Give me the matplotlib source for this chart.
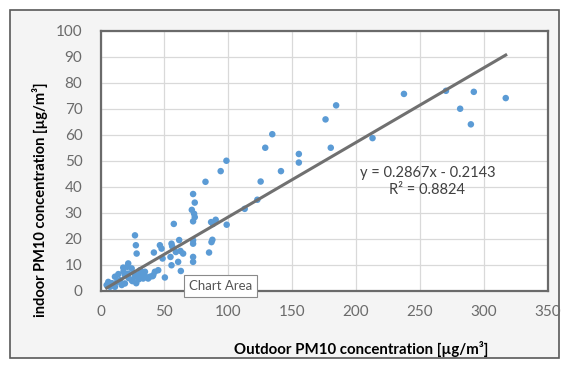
import numpy as np
import matplotlib.pyplot as plt
from matplotlib.patches import Rectangle

plt.rcParams['font.family'] = ['Lato', 'DejaVu Sans']

# outdoor (x) vs indoor (y) PM10
outdoor = [184.5, 237.6, 270.5, 292.3, 317.3, 281.6, 290.0, 213.0, 180.3, 176.2,
           155.3, 155.3, 134.5, 129.0, 141.3, 125.4, 122.8, 112.9, 98.6, 94.1,
           82.2, 72.5, 73.8, 71.5, 73.3, 73.8, 72.5, 90.2, 88.0, 86.6,
           98.8, 57.4,
           61.6, 55.6, 47.8, 41.8, 56.1, 59.0, 62.6, 64.7, 72.5, 72.5,
           86.9, 87.6, 85.0, 72.5, 72.5, 54.8, 60.8, 48.6, 62.9, 55.6,
           45.2, 42.6, 50.4, 40.8, 37.3, 33.4, 32.2, 27.0, 27.7, 28.3,
           21.7, 21.0, 24.4, 46.5, 17.8,
           6.1, 4.8, 7.4, 11.3, 15.2, 19.1, 21.7, 27.0, 29.5, 32.2,
           34.8, 37.3, 24.4, 19.1, 16.6, 11.3, 34.8, 41.3, 38.7, 9.0,
           13.0, 22.0, 25.0, 30.0, 14.0, 18.0, 8.0, 26.0, 31.0, 28.0]
indoor = [71.4, 75.8, 77.0, 76.6, 74.2, 70.1, 64.1, 58.8, 55.1, 66.0,
          52.7, 49.4, 60.3, 55.1, 46.1, 42.1, 35.1, 31.6, 50.1, 46.1,
          42.0, 37.3, 34.0, 31.2, 29.7, 28.4, 26.8, 27.4, 25.8, 26.5,
          25.5, 25.8,
          19.6, 18.2, 16.3, 14.8, 17.2, 15.0, 15.4, 14.4, 19.5, 18.2,
          18.8, 19.7, 14.8, 13.1, 11.2, 13.1, 11.2, 12.5, 7.7, 9.9,
          8.0, 7.4, 5.2, 5.7, 5.2, 4.8, 6.7, 21.4, 17.6, 14.4,
          10.6, 9.3, 8.7, 17.6, 9.0,
          3.5, 2.3, 1.6, 5.5, 4.2, 6.1, 6.7, 5.5, 6.1, 6.7,
          5.5, 4.8, 4.2, 2.9, 2.3, 1.6, 7.4, 6.1, 5.5, 3.0,
          3.5, 5.0, 3.8, 4.5, 6.5, 7.5, 2.5, 7.0, 8.0, 3.0]

slope = 0.2867
intercept = -0.2143
r2 = 0.8824

xticks = [0, 50, 100, 150, 200, 250, 300, 350]
yticks = [0, 10, 20, 30, 40, 50, 60, 70, 80, 90, 100]

fig = plt.figure(figsize=(5.69, 3.67), dpi=100)
fig.patch.set_facecolor('white')

# chart area frame with light grey fill
fig.patches.append(Rectangle((10/569, 1-358/367), 549/569, 348/367, transform=fig.transFigure,
                             facecolor='#f4f4f4', edgecolor='#595959', lw=1.2, zorder=-5))

ax = fig.add_axes([100.5/569, 1-291/367, 447/569, 260/367])
ax.set_zorder(2)
ax.set_facecolor('white')
ax.set_xlim(0, 350)
ax.set_ylim(0, 100)
ax.set_xticks(xticks)
ax.set_yticks(yticks)
ax.grid(True, color='#d9d9d9', lw=0.9)
ax.set_axisbelow(True)
for s in ax.spines.values():
    s.set_color('#6a6a6a')
    s.set_linewidth(1.6)
ax.tick_params(length=0, labelsize=11, labelcolor='#6b6b6b')
ax.tick_params(axis='x', pad=10)
ax.tick_params(axis='y', pad=13)

ax.scatter(outdoor, indoor, s=22, color='#5b9bd5', edgecolors='none', zorder=3)

xs = np.array([min(outdoor), max(outdoor)])
ax.plot(xs, slope*xs + intercept, color='#707070', lw=2.2, zorder=4)

ax.text(256, 42.2, f'y = {slope}x - {abs(intercept)}\nR² = {r2}', fontsize=10.5,
        ha='center', va='center', color='#404040', linespacing=1.25)

fig.text(361/569, 1-349/367, 'Outdoor PM10 concentration [µg/m³]', ha='center', va='center',
         fontsize=10.8, fontweight='bold', color='black')
fig.text(40/569, 1-200/367, 'indoor PM10 concentration [µg/m³]', ha='center', va='center',
         rotation=90, fontsize=10.5, fontweight='bold', color='black')

# hover tooltip
fig.text(189/569, 1-286/367, 'Chart Area', fontsize=9.5, color='#555555', ha='left', va='center',
         zorder=10,
         bbox=dict(boxstyle='square,pad=0.35', facecolor='white', edgecolor='#8a8a8a', lw=0.8))

fig.savefig('out.png', dpi=100)
